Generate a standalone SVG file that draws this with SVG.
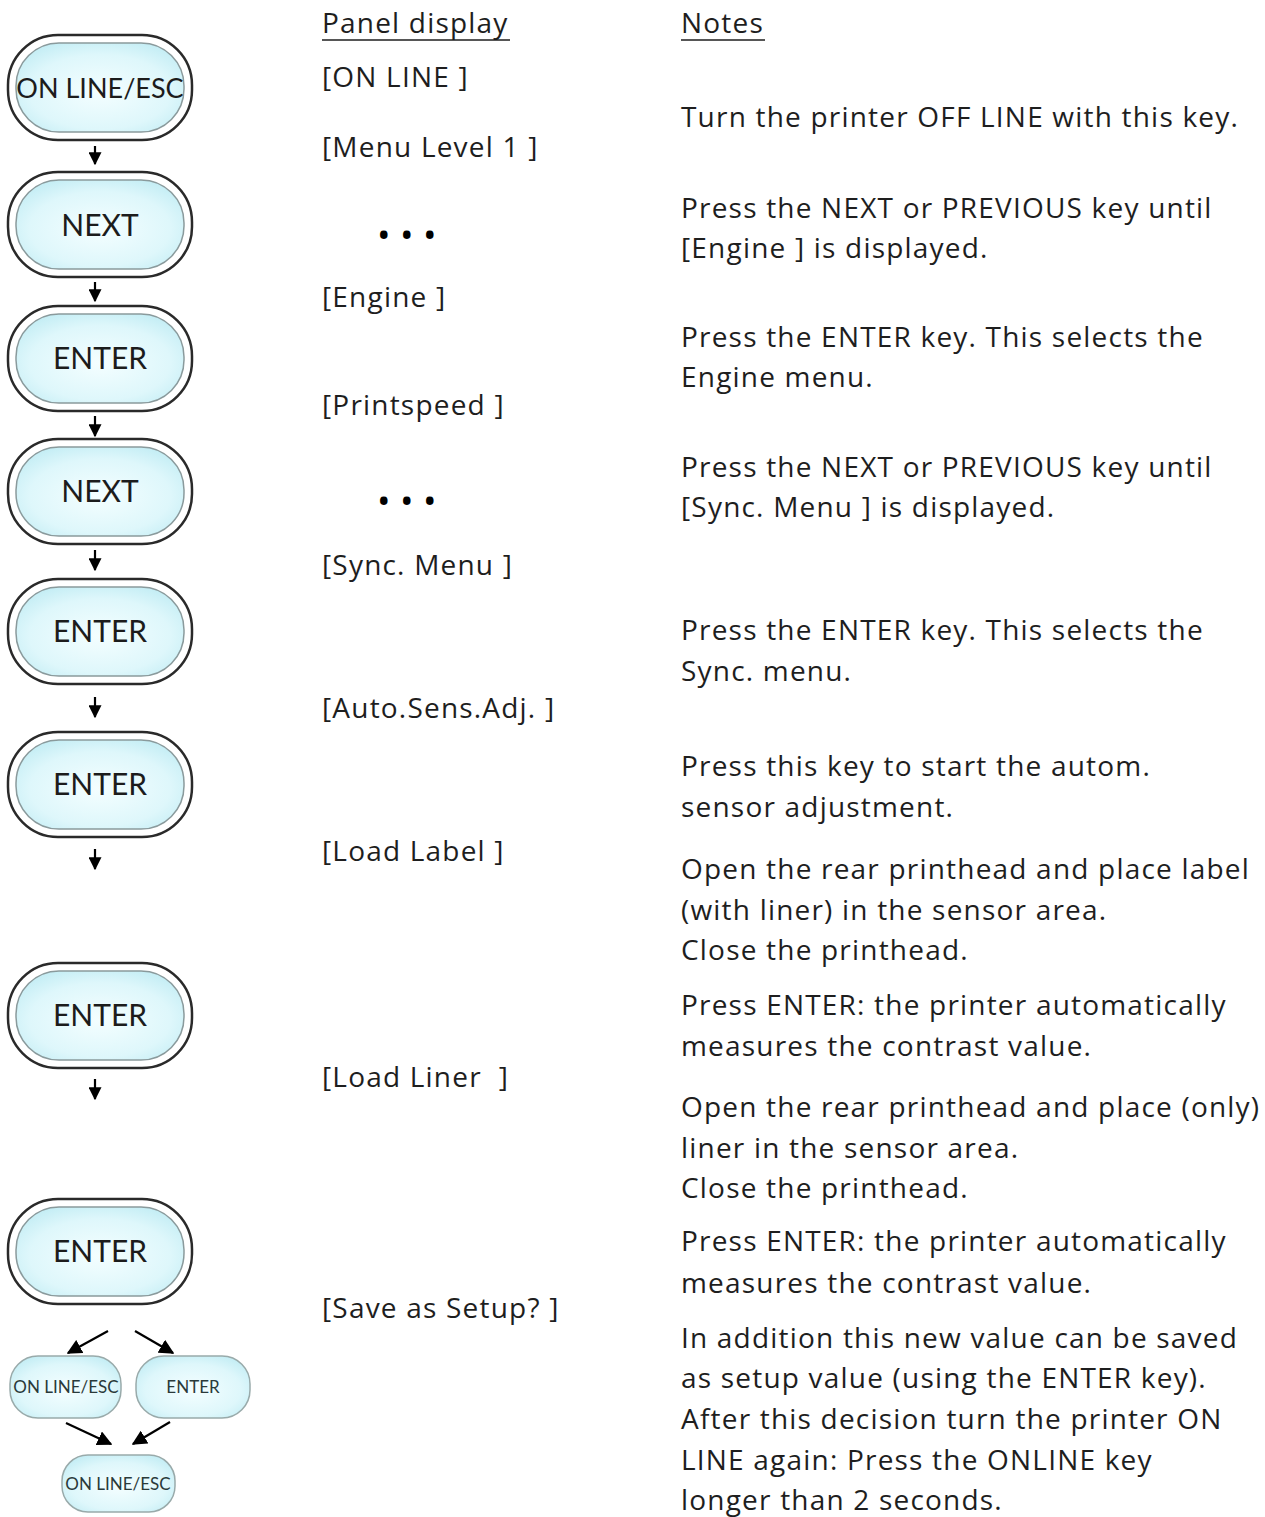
<svg xmlns="http://www.w3.org/2000/svg" width="1265" height="1517" viewBox="0 0 1265 1517">
<defs>
<radialGradient id="g" cx="0.5" cy="0.55" r="0.6">
<stop offset="0" stop-color="#f4feff"/>
<stop offset="0.7" stop-color="#def7fb"/>
<stop offset="1" stop-color="#c6eef5"/>
</radialGradient>
<marker id="ah" viewBox="0 0 10 10" refX="9" refY="5" markerWidth="13" markerHeight="13" markerUnits="userSpaceOnUse" orient="auto">
<path d="M0,0 L10,5 L0,10 z" fill="#000"/>
</marker>
<marker id="ah2" viewBox="0 0 10 10" refX="9" refY="5" markerWidth="15" markerHeight="15" markerUnits="userSpaceOnUse" orient="auto">
<path d="M0,0 L10,5 L0,10 z" fill="#000"/>
</marker>
</defs>
<style>
.o{fill:#fff;stroke:#2a2a2a;stroke-width:2.5}
.i{fill:url(#g);stroke:#8a9a9c;stroke-width:1.5}
.s{stroke:#9aa}
.bt{font-family:"Lato","Liberation Sans",sans-serif;font-size:30px;fill:#1c1c1c;text-anchor:middle}
.sbt{font-family:"Lato","Liberation Sans",sans-serif;font-size:17px;fill:#2a3a3a;text-anchor:middle}
.t{font-family:"Open Sans","Liberation Sans",sans-serif;font-size:28px;letter-spacing:1.2px;fill:#1e1e1e}
.d{font-family:"Open Sans","Liberation Sans",sans-serif;font-size:36px;fill:#000}
.c line{stroke:#000;stroke-width:2.2}
.u{stroke:#1e1e1e;stroke-width:1.5}
</style>

<g id="btn1"><rect class="o" x="8" y="35" width="184" height="105" rx="50"/><rect class="i" x="16" y="43" width="168" height="89" rx="43"/><text class="bt" x="100" y="98" style="font-size:27px">ON LINE/ESC</text></g>
<g id="btn2"><rect class="o" x="8" y="172" width="184" height="105" rx="50"/><rect class="i" x="16" y="180" width="168" height="89" rx="43"/><text class="bt" x="100" y="236">NEXT</text></g>
<g id="btn3"><rect class="o" x="8" y="306" width="184" height="105" rx="50"/><rect class="i" x="16" y="314" width="168" height="89" rx="43"/><text class="bt" x="100" y="369">ENTER</text></g>
<g id="btn4"><rect class="o" x="8" y="439" width="184" height="105" rx="50"/><rect class="i" x="16" y="447" width="168" height="89" rx="43"/><text class="bt" x="100" y="502">NEXT</text></g>
<g id="btn5"><rect class="o" x="8" y="579" width="184" height="105" rx="50"/><rect class="i" x="16" y="587" width="168" height="89" rx="43"/><text class="bt" x="100" y="642">ENTER</text></g>
<g id="btn6"><rect class="o" x="8" y="732" width="184" height="105" rx="50"/><rect class="i" x="16" y="740" width="168" height="89" rx="43"/><text class="bt" x="100" y="795">ENTER</text></g>
<g id="btn7"><rect class="o" x="8" y="963" width="184" height="105" rx="50"/><rect class="i" x="16" y="971" width="168" height="89" rx="43"/><text class="bt" x="100" y="1026">ENTER</text></g>
<g id="btn8"><rect class="o" x="8" y="1199" width="184" height="105" rx="50"/><rect class="i" x="16" y="1207" width="168" height="89" rx="43"/><text class="bt" x="100" y="1262">ENTER</text></g>

<g id="btn9"><rect class="i s" x="10" y="1356" width="111" height="62" rx="28"/><text class="sbt" x="66" y="1393">ON LINE/ESC</text></g>
<g id="btn10"><rect class="i s" x="136" y="1356" width="114" height="62" rx="28"/><text class="sbt" x="193" y="1393">ENTER</text></g>
<g id="btn11"><rect class="i s" x="62" y="1455" width="113" height="57" rx="26"/><text class="sbt" x="118" y="1490">ON LINE/ESC</text></g>

<g class="c" id="connectors">
<line x1="95" y1="146" x2="95" y2="164" marker-end="url(#ah)"/>
<line x1="95" y1="282" x2="95" y2="301" marker-end="url(#ah)"/>
<line x1="95" y1="416" x2="95" y2="436" marker-end="url(#ah)"/>
<line x1="95" y1="550" x2="95" y2="570" marker-end="url(#ah)"/>
<line x1="95" y1="697" x2="95" y2="717" marker-end="url(#ah)"/>
<line x1="95" y1="849" x2="95" y2="869" marker-end="url(#ah)"/>
<line x1="95" y1="1079" x2="95" y2="1099" marker-end="url(#ah)"/>
<line x1="108" y1="1331" x2="68" y2="1353" marker-end="url(#ah2)"/>
<line x1="135" y1="1331" x2="173" y2="1353" marker-end="url(#ah2)"/>
<line x1="66" y1="1423" x2="111" y2="1444" marker-end="url(#ah2)"/>
<line x1="170" y1="1422" x2="133" y2="1444" marker-end="url(#ah2)"/>
</g>

<g id="panel">
<text class="t" x="322" y="33">Panel display</text>
<line class="u" x1="322" y1="40" x2="510" y2="40"/>
<text class="t" x="322" y="87">[ON LINE ]</text>
<text class="t" x="322" y="157">[Menu Level 1 ]</text>
<text class="d" x="377 400 423" y="248">•••</text>
<text class="t" x="322" y="307">[Engine ]</text>
<text class="t" x="322" y="415">[Printspeed ]</text>
<text class="d" x="377 400 423" y="514">•••</text>
<text class="t" x="322" y="575">[Sync. Menu ]</text>
<text class="t" x="322" y="718">[Auto.Sens.Adj. ]</text>
<text class="t" x="322" y="861">[Load Label ]</text>
<text class="t" x="322" y="1087" xml:space="preserve">[Load Liner  ]</text>
<text class="t" x="322" y="1318">[Save as Setup? ]</text>
</g>

<g id="notes">
<text class="t" x="681" y="33">Notes</text>
<line class="u" x1="681" y1="40" x2="765" y2="40"/>
<text class="t" x="681" y="127">Turn the printer OFF LINE with this key.</text>
<text class="t" x="681" y="218">Press the NEXT or PREVIOUS key until</text>
<text class="t" x="681" y="258">[Engine ] is displayed.</text>
<text class="t" x="681" y="347">Press the ENTER key. This selects the</text>
<text class="t" x="681" y="387">Engine menu.</text>
<text class="t" x="681" y="477">Press the NEXT or PREVIOUS key until</text>
<text class="t" x="681" y="517">[Sync. Menu ] is displayed.</text>
<text class="t" x="681" y="640">Press the ENTER key. This selects the</text>
<text class="t" x="681" y="681">Sync. menu.</text>
<text class="t" x="681" y="776">Press this key to start the autom.</text>
<text class="t" x="681" y="817">sensor adjustment.</text>
<text class="t" x="681" y="879">Open the rear printhead and place label</text>
<text class="t" x="681" y="920">(with liner) in the sensor area.</text>
<text class="t" x="681" y="960">Close the printhead.</text>
<text class="t" x="681" y="1015">Press ENTER: the printer automatically</text>
<text class="t" x="681" y="1056">measures the contrast value.</text>
<text class="t" x="681" y="1117">Open the rear printhead and place (only)</text>
<text class="t" x="681" y="1158">liner in the sensor area.</text>
<text class="t" x="681" y="1198">Close the printhead.</text>
<text class="t" x="681" y="1251">Press ENTER: the printer automatically</text>
<text class="t" x="681" y="1293">measures the contrast value.</text>
<text class="t" x="681" y="1348">In addition this new value can be saved</text>
<text class="t" x="681" y="1388">as setup value (using the ENTER key).</text>
<text class="t" x="681" y="1429">After this decision turn the printer ON</text>
<text class="t" x="681" y="1470">LINE again: Press the ONLINE key</text>
<text class="t" x="681" y="1510">longer than 2 seconds.</text>
</g>
</svg>
